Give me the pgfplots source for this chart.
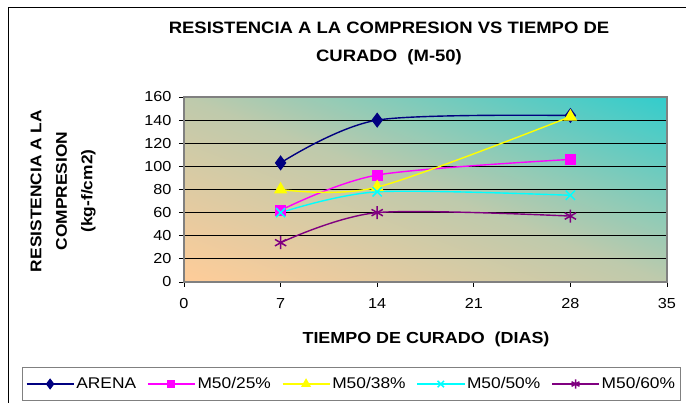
\documentclass[border=0pt]{standalone}
\usepackage{pgfplots}
\pgfplotsset{compat=1.18}
\usepackage{fontspec}
\setmainfont[FakeStretch=1.12]{Liberation Sans}

\definecolor{bgtan}{HTML}{FFCC99}
\definecolor{bgmid}{HTML}{BECAAC}
\definecolor{bgaqua}{HTML}{33CCCC}
\definecolor{cArena}{HTML}{000080}
\definecolor{cM25}{HTML}{FF00FF}
\definecolor{cM38}{HTML}{FFFF00}
\definecolor{cM50}{HTML}{00FFFF}
\definecolor{cM60}{HTML}{800080}
\definecolor{frame}{HTML}{808080}

% diagonal fill of the plot area: tan in the lower left corner, aqua in the upper right
\pgfdeclarehorizontalshading{plotbg}{100bp}{%
  color(0bp)=(bgtan); color(14.6bp)=(bgtan); color(50bp)=(bgmid);
  color(85.4bp)=(bgaqua); color(100bp)=(bgaqua)}

\begin{document}
\begin{tikzpicture}
\useasboundingbox (0,0) rectangle (686pt,403pt);
% outer chart frame
\draw[black, line width=1pt] (8.5pt,0) -- (8.5pt,395.5pt) -- (686pt,395.5pt);
% plot area background, laid out on a unit square stretched to the plot area
\begin{scope}[transform canvas={shift={(184pt,121pt)}, xscale=4.83, yscale=1.85}]
  \shade[shading=plotbg, shading angle=45] (0,0) rectangle (100pt,100pt);
\end{scope}

\begin{axis}[
  at={(184pt,121pt)}, anchor=south west,
  scale only axis, width=483pt, height=185pt,
  xmin=0, xmax=35, ymin=0, ymax=160,
  xtick={0,7,14,21,28,35}, ytick={0,20,...,160},
  xtick pos=left, ytick pos=left,
  tick align=outside, major tick length=5pt,
  tick style={black, line width=0.8pt},
  axis line style={frame, line width=1.3pt},
  ymajorgrids, grid style={black, line width=0.8pt},
  /pgf/number format/assume math mode=true,
  tick label style={font=\fontsize{14.5}{14.5}\selectfont},
  xticklabel style={yshift=-8pt},
  yticklabel style={xshift=-4pt},
  every axis plot/.append style={line width=1.4pt, smooth},
  legend columns=5,
  legend style={at={(0.3468,-0.5514)}, anchor=center,
    draw=frame, line width=1pt, fill=white,
    font=\fontsize{15.5}{15.5}\selectfont, inner xsep=3pt, inner ysep=8pt,
    /tikz/every even column/.append style={column sep=9pt}},
  legend image code/.code={
    \draw[mark repeat=2, mark phase=2, #1, every mark/.append style={scale=0.7}]
      plot coordinates {(0pt,0pt) (23.5pt,0pt) (47pt,0pt)};},
]
\addplot[cArena, mark=diamond*, mark size=6.5pt, mark options={solid, fill=cArena}]
  coordinates {(7,103) (14,140) (28,144)};
\addlegendentry{ARENA}
\addplot[cM25, mark=square*, mark size=4.8pt, mark options={solid, fill=cM25}]
  coordinates {(7,62) (14,92.5) (28,106)};
\addlegendentry{M50/25\%}
\addplot[cM38, mark=triangle*, mark size=6.3pt, mark options={solid, fill=cM38}]
  coordinates {(7,80) (14,82) (28,143)};
\addlegendentry{M50/38\%}
\addplot[cM50, mark=x, mark size=6.5pt, mark options={solid, line width=1.5pt}]
  coordinates {(7,60) (14,78) (28,75)};
\addlegendentry{M50/50\%}
\addplot[cM60, mark=asterisk, mark size=6.5pt, mark options={solid, line width=1.5pt}]
  coordinates {(7,34) (14,60) (28,57)};
\addlegendentry{M50/60\%}
\end{axis}

% title and axis titles
\node[font=\bfseries\fontsize{16.5}{28.5}\selectfont, align=center]
  at (389pt,359.7pt) {RESISTENCIA A LA COMPRESION VS TIEMPO DE\\CURADO~~(M-50)};
\node[font=\bfseries\fontsize{16}{16}\selectfont]
  at (426pt,64pt) {TIEMPO DE CURADO~~(DIAS)};
\node[rotate=90, align=center, font=\bfseries\fontsize{15.5}{25.5}\selectfont]
  at (63pt,212pt) {RESISTENCIA A LA\\COMPRESION\\(kg-f/cm2)};
\end{tikzpicture}
\end{document}
